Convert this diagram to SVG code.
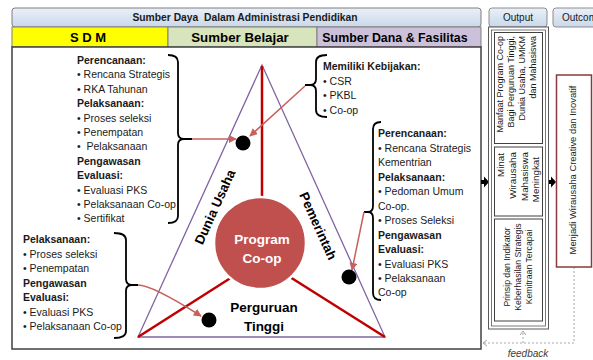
<svg xmlns="http://www.w3.org/2000/svg" width="593" height="360" viewBox="0 0 593 360">
<style>
text{font-family:"Liberation Sans",Arial,sans-serif;fill:#1a1a1a}
.b{font-weight:bold}
.t{font-size:10.5px}
.hd{font-weight:bold;fill:#000}
.br{fill:none;stroke:#000;stroke-width:1.8}
.ar{fill:none;stroke:#c9605a;stroke-width:1.5;marker-end:url(#ah)}
.dot{fill:#000}
.ob{fill:#fff;stroke:#404040;stroke-width:1}
.ot{font-size:9px}
.fb{fill:none;stroke:#a6a6a6;stroke-width:1;stroke-dasharray:2 2}
</style>
<defs>
<linearGradient id="gb" x1="0" y1="0" x2="0" y2="1"><stop offset="0" stop-color="#eaf0f8"/><stop offset="1" stop-color="#c9d8ea"/></linearGradient>
<marker id="ah" viewBox="0 0 10 10" refX="9" refY="5" markerWidth="8" markerHeight="8" markerUnits="userSpaceOnUse" orient="auto"><path d="M0,0 L10,5 L0,10 z" fill="#c9605a"/></marker>
</defs>

<g id="frame">
<rect x="12" y="8" width="469" height="19" rx="3" fill="url(#gb)" stroke="#7f7f7f"/>
<text x="245" y="21" class="b" font-size="10.3" text-anchor="middle" xml:space="preserve">Sumber Daya  Dalam Administrasi Pendidikan</text>
<rect x="12" y="27" width="156" height="20" fill="#ffff00" stroke="#7f7f7f"/>
<rect x="168" y="27" width="149" height="20" fill="#d7e4bc" stroke="#7f7f7f"/>
<rect x="317" y="27" width="164" height="20" fill="#ccc0da" stroke="#7f7f7f"/>
<text x="88" y="42" class="hd" font-size="13" text-anchor="middle">S D M</text>
<text x="240" y="42" class="hd" font-size="13.3" text-anchor="middle">Sumber Belajar</text>
<text x="395" y="42" class="hd" font-size="12.4" text-anchor="middle">Sumber Dana &amp; Fasilitas</text>
<rect x="12" y="47" width="469" height="302" fill="#fff" stroke="#404040" stroke-width="1.5"/>
</g>

<g id="triangle">
<polygon points="262,65 138,337 385,337" fill="none" stroke="#8064a2" stroke-width="1.3"/>
<path d="M262,66 L262,200 M138,337 L240,272 M385,337 L282,272" fill="none" stroke="#c00000" stroke-width="2.5"/>
</g>

<g id="program-coop">
<circle cx="260" cy="243" r="46" fill="#c0504d" stroke="#fff" stroke-width="2.5"/>
<text x="262" y="244" class="b" font-size="13.5" text-anchor="middle" style="fill:#fff">Program</text>
<text x="262" y="263" class="b" font-size="13.5" text-anchor="middle" style="fill:#fff">Co-op</text>
</g>

<g id="dunia-usaha">
<text transform="translate(215,207) rotate(-65.5)" y="4.5" class="hd" font-size="13.3" text-anchor="middle">Dunia Usaha</text>
</g>
<g id="pemerintah">
<text transform="translate(318,226) rotate(65.7)" y="4.5" class="hd" font-size="13.3" text-anchor="middle">Pemerintah</text>
</g>
<g id="perguruan-tinggi">
<text x="264" y="312" class="hd" font-size="13.5" text-anchor="middle">Perguruan</text>
<text x="264" y="331" class="hd" font-size="13.5" text-anchor="middle">Tinggi</text>
</g>

<g id="sdm-du">
<text class="t" x="77"><tspan x="77" y="64" class="b">Perencanaan:</tspan><tspan x="77" y="78.4">• Rencana Strategis</tspan><tspan x="77" y="92.8">• RKA Tahunan</tspan><tspan x="77" y="107.2" class="b">Pelaksanaan:</tspan><tspan x="77" y="121.6">• Proses seleksi</tspan><tspan x="77" y="136">• Penempatan</tspan><tspan x="77" y="150.4" xml:space="preserve">•  Pelaksanaan</tspan><tspan x="77" y="164.8" class="b">Pengawasan</tspan><tspan x="77" y="179.2" class="b">Evaluasi:</tspan><tspan x="77" y="193.6">• Evaluasi PKS</tspan><tspan x="77" y="208">• Pelaksanaan Co-op</tspan><tspan x="77" y="222.4">• Sertifikat</tspan></text>
<path class="br" d="M168,55 Q178,55 178,62 L178,133 Q178,139 184,139 L192,139 M184,139 Q178,139 178,145 L178,216 Q178,223 168,223"/>
</g>

<g id="kebijakan">
<text class="t"><tspan x="323" y="70" class="b">Memiliki Kebijakan:</tspan><tspan x="323" y="84.5">• CSR</tspan><tspan x="323" y="99">• PKBL</tspan><tspan x="323" y="113.5">• Co-op</tspan></text>
<path class="br" d="M327,55 Q316,55 316,62 L316,79 Q316,85 310,85 L305,85 M310,85 Q316,85 316,91 L316,110 Q316,117 327,117"/>
</g>

<g id="pemerintah-text">
<text class="t"><tspan x="378" y="137" class="b">Perencanaan:</tspan><tspan x="378" y="151.5">• Rencana Strategis</tspan><tspan x="378" y="166">Kementrian</tspan><tspan x="378" y="180.5" class="b">Pelaksanaan:</tspan><tspan x="378" y="195">• Pedoman Umum</tspan><tspan x="378" y="209.5">Co-op.</tspan><tspan x="378" y="224">• Proses Seleksi</tspan><tspan x="378" y="238.5" class="b">Pengawasan</tspan><tspan x="378" y="253" class="b">Evaluasi:</tspan><tspan x="378" y="267.5">• Evaluasi PKS</tspan><tspan x="378" y="282">• Pelaksanaan</tspan><tspan x="378" y="296">Co-op</tspan></text>
<path class="br" d="M381,122 Q373,122 373,129 L373,206 Q373,212 368,212 L364,212 M368,212 Q373,212 373,218 L373,293 Q373,300 381,300"/>
</g>

<g id="pt-text">
<text class="t"><tspan x="23" y="243" class="b">Pelaksanaan:</tspan><tspan x="23" y="257.5">• Proses seleksi</tspan><tspan x="23" y="272">• Penempatan</tspan><tspan x="23" y="286.5" class="b">Pengawasan</tspan><tspan x="23" y="301" class="b">Evaluasi:</tspan><tspan x="23" y="315.5">• Evaluasi PKS</tspan><tspan x="23" y="330">• Pelaksanaan Co-op</tspan></text>
<path class="br" d="M114,233 Q126,233 126,240 L126,279 Q126,285 132,285 L138,285 M132,285 Q126,285 126,291 L126,331 Q126,338 114,338"/>
</g>

<g id="connectors">
<path class="ar" d="M192,139 L236,139"/>
<path class="ar" d="M305,86 L250,136"/>
<path class="ar" d="M138,285 Q152,285 201,316"/>
<path class="ar" d="M364,212 L352,270"/>
<circle class="dot" cx="243" cy="143" r="7.5"/>
<circle class="dot" cx="349" cy="277" r="7.5"/>
<circle class="dot" cx="209" cy="320" r="7.5"/>
<path d="M481,180 L484,180 L484,176.5 L489,182 L484,187.5 L484,184 L481,184 Z" fill="#000"/>
<path d="M548,180 L551,180 L551,176.5 L556,182 L551,187.5 L551,184 L548,184 Z" fill="#000"/>
<path class="fb" d="M574,267 L574,343 L483,343 M523,343 L523,331"/>
<path d="M487,340 L483,343 L487,346 M520,335 L523,331 L526,335" fill="none" stroke="#a6a6a6" stroke-width="1"/>
<text x="528" y="357" font-size="10" font-style="italic" text-anchor="middle" style="fill:#404040">feedback</text>
</g>

<g id="output">
<rect x="489" y="8" width="58" height="19" rx="3" fill="url(#gb)" stroke="#8c8c8c"/>
<text x="518" y="21" font-size="10" text-anchor="middle">Output</text>
<rect x="488.5" y="27" width="60" height="302" fill="#fff" stroke="#595959"/>
<rect x="491.5" y="30" width="54" height="296" fill="#fff" stroke="#595959" stroke-width="0.8"/>
<rect class="ob" x="494.5" y="32.5" width="48" height="111"/>
<text class="ot" text-anchor="end" transform="translate(503,36) rotate(-90)">Manfaat Program Co-op</text>
<text class="ot" text-anchor="end" transform="translate(514,36) rotate(-90)">Bagi Perguruan Tinggi,</text>
<text class="ot" text-anchor="end" transform="translate(525,36) rotate(-90)">Dunia Usaha, UMKM</text>
<text class="ot" text-anchor="end" transform="translate(536,36) rotate(-90)">dan Mahasiswa</text>
<rect class="ob" x="494.5" y="147" width="48" height="69"/>
<text font-size="9.8" text-anchor="end" transform="translate(504,153) rotate(-90)">Minat</text>
<text font-size="9.8" text-anchor="end" transform="translate(515.5,152) rotate(-90)">Wirausaha</text>
<text font-size="9.8" text-anchor="end" transform="translate(527.5,152) rotate(-90)">Mahasiswa</text>
<text font-size="9.8" text-anchor="end" transform="translate(539,157) rotate(-90)">Meningkat</text>
<rect class="ob" x="494.5" y="219" width="48" height="102"/>
<text font-size="8.7" text-anchor="middle" transform="translate(510,267) rotate(-90)">Prinsip dan Indikator</text>
<text font-size="8.7" text-anchor="middle" transform="translate(521,267) rotate(-90)">Keberhasilan Strategis</text>
<text font-size="8.7" text-anchor="middle" transform="translate(532,267) rotate(-90)">Kemitraan Tercapai</text>
</g>

<g id="outcome">
<rect x="553" y="8" width="60" height="19" rx="3" fill="url(#gb)" stroke="#8c8c8c"/>
<text x="562" y="21" font-size="10">Outcome</text>
<rect x="556.5" y="75" width="35" height="192" fill="#fff" stroke="#8b3a3a" stroke-width="1.5"/>
<text font-size="9.4" text-anchor="middle" transform="translate(576,170) rotate(-90)">Menjadi Wirausaha Creative dan Inovatif</text>
</g>
</svg>
